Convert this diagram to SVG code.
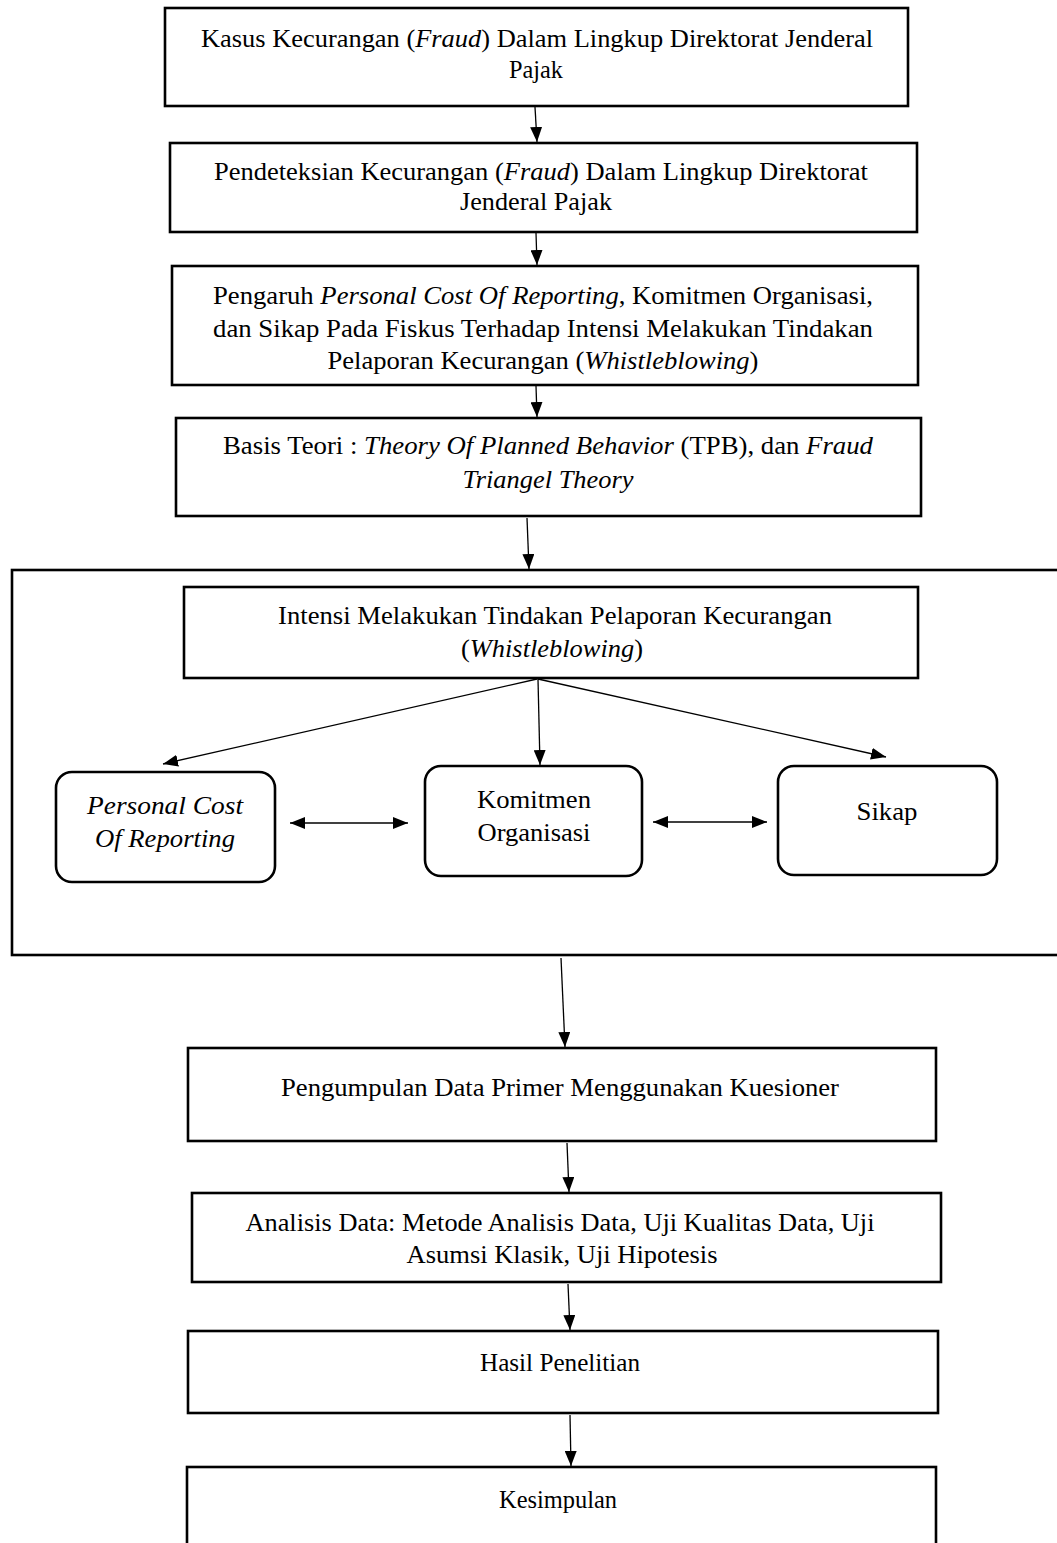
<svg xmlns="http://www.w3.org/2000/svg" width="1057" height="1543" viewBox="0 0 1057 1543">
<style>
.box{fill:#fff;stroke:#000;stroke-width:2.6}
.frame{fill:none;stroke:#000;stroke-width:2.6}
.t{font-family:"Liberation Serif","Times New Roman",serif;font-size:26px;fill:#000;text-anchor:middle}
.i{font-style:italic}
.c{stroke:#000;stroke-width:1.3;fill:none}
</style>
<defs>
<marker id="ah" markerUnits="userSpaceOnUse" markerWidth="16" markerHeight="12" refX="15" refY="6" orient="auto-start-reverse">
<path d="M0,0 L15,6 L0,12 z" fill="#000"/>
</marker>
</defs>
<rect x="0" y="0" width="1057" height="1543" fill="#fff"/>

<g id="n-frame"><rect class="frame" x="12" y="570" width="1050" height="385"/></g>

<g id="n1"><rect class="box" x="165" y="8" width="743" height="98"/>
<text class="t" x="537" y="47" textLength="672" lengthAdjust="spacingAndGlyphs">Kasus Kecurangan (<tspan class="i">Fraud</tspan>) Dalam Lingkup Direktorat Jenderal</text>
<text class="t" x="536" y="78" textLength="54" lengthAdjust="spacingAndGlyphs">Pajak</text></g>

<g id="n2"><rect class="box" x="170" y="143" width="747" height="89"/>
<text class="t" x="541" y="180" textLength="654" lengthAdjust="spacingAndGlyphs">Pendeteksian Kecurangan (<tspan class="i">Fraud</tspan>) Dalam Lingkup Direktorat</text>
<text class="t" x="536" y="210" textLength="152" lengthAdjust="spacingAndGlyphs">Jenderal Pajak</text></g>

<g id="n3"><rect class="box" x="172" y="266" width="746" height="119"/>
<text class="t" x="543" y="304" textLength="660" lengthAdjust="spacingAndGlyphs">Pengaruh <tspan class="i">Personal Cost Of Reporting</tspan>, Komitmen Organisasi,</text>
<text class="t" x="543" y="337" textLength="660" lengthAdjust="spacingAndGlyphs">dan Sikap Pada Fiskus Terhadap Intensi Melakukan Tindakan</text>
<text class="t" x="543" y="369" textLength="431" lengthAdjust="spacingAndGlyphs">Pelaporan Kecurangan (<tspan class="i">Whistleblowing</tspan>)</text></g>

<g id="n4"><rect class="box" x="176" y="418" width="745" height="98"/>
<text class="t" x="548" y="454" textLength="650" lengthAdjust="spacingAndGlyphs">Basis Teori : <tspan class="i">Theory Of Planned Behavior</tspan> (TPB), dan <tspan class="i">Fraud</tspan></text>
<text class="t i" x="548" y="488" textLength="171" lengthAdjust="spacingAndGlyphs">Triangel Theory</text></g>

<g id="n5"><rect class="box" x="184" y="587" width="734" height="91"/>
<text class="t" x="555" y="624" textLength="554" lengthAdjust="spacingAndGlyphs">Intensi Melakukan Tindakan Pelaporan Kecurangan</text>
<text class="t" x="552" y="657" textLength="182" lengthAdjust="spacingAndGlyphs">(<tspan class="i">Whistleblowing</tspan>)</text></g>

<g id="n6"><rect class="box" x="56" y="772" width="219" height="110" rx="16"/>
<text class="t i" x="165" y="814" textLength="156" lengthAdjust="spacingAndGlyphs">Personal Cost</text>
<text class="t i" x="165" y="847" textLength="140" lengthAdjust="spacingAndGlyphs">Of Reporting</text></g>

<g id="n7"><rect class="box" x="425" y="766" width="217" height="110" rx="16"/>
<text class="t" x="534" y="808" textLength="114" lengthAdjust="spacingAndGlyphs">Komitmen</text>
<text class="t" x="534" y="841" textLength="113" lengthAdjust="spacingAndGlyphs">Organisasi</text></g>

<g id="n8"><rect class="box" x="778" y="766" width="219" height="109" rx="16"/>
<text class="t" x="887" y="820" textLength="61" lengthAdjust="spacingAndGlyphs">Sikap</text></g>

<g id="n9"><rect class="box" x="188" y="1048" width="748" height="93"/>
<text class="t" x="560" y="1096" textLength="558" lengthAdjust="spacingAndGlyphs">Pengumpulan Data Primer Menggunakan Kuesioner</text></g>

<g id="n10"><rect class="box" x="192" y="1193" width="749" height="89"/>
<text class="t" x="560" y="1231" textLength="629" lengthAdjust="spacingAndGlyphs">Analisis Data: Metode Analisis Data, Uji Kualitas Data, Uji</text>
<text class="t" x="562" y="1263" textLength="311" lengthAdjust="spacingAndGlyphs">Asumsi Klasik, Uji Hipotesis</text></g>

<g id="n11"><rect class="box" x="188" y="1331" width="750" height="82"/>
<text class="t" x="560" y="1371" textLength="160" lengthAdjust="spacingAndGlyphs">Hasil Penelitian</text></g>

<g id="n12"><rect class="box" x="187" y="1467" width="749" height="90"/>
<text class="t" x="558" y="1508" textLength="118" lengthAdjust="spacingAndGlyphs">Kesimpulan</text></g>

<g id="connectors">
<line class="c" x1="535" y1="107" x2="537" y2="142" marker-end="url(#ah)"/>
<line class="c" x1="536" y1="233" x2="537" y2="265" marker-end="url(#ah)"/>
<line class="c" x1="536" y1="386" x2="537" y2="417" marker-end="url(#ah)"/>
<line class="c" x1="527" y1="518" x2="529" y2="569" marker-end="url(#ah)"/>
<line class="c" x1="537" y1="679" x2="163" y2="764" marker-end="url(#ah)"/>
<line class="c" x1="538" y1="679" x2="540" y2="765" marker-end="url(#ah)"/>
<line class="c" x1="538" y1="679" x2="886" y2="757" marker-end="url(#ah)"/>
<line class="c" x1="290" y1="823" x2="408" y2="823" marker-start="url(#ah)" marker-end="url(#ah)"/>
<line class="c" x1="653" y1="822" x2="767" y2="822" marker-start="url(#ah)" marker-end="url(#ah)"/>
<line class="c" x1="561" y1="958" x2="565" y2="1047" marker-end="url(#ah)"/>
<line class="c" x1="567" y1="1143" x2="569" y2="1192" marker-end="url(#ah)"/>
<line class="c" x1="568" y1="1284" x2="570" y2="1330" marker-end="url(#ah)"/>
<line class="c" x1="570" y1="1415" x2="571" y2="1466" marker-end="url(#ah)"/>
</g>
</svg>
